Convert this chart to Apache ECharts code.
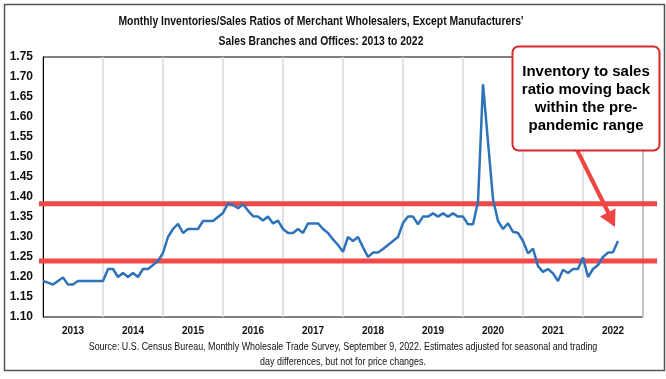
<!DOCTYPE html>
<html>
<head>
<meta charset="utf-8">
<script src="https://cdn.jsdelivr.net/npm/echarts@6/dist/echarts.min.js"></script>
<style>html,body{margin:0;padding:0;background:#fff;}#c{width:666px;height:379px;}</style>
</head>
<body>
<div id="c"></div>
<script>
// Year tick labels (each year = 12 monthly points)
const years = ['2013','2014','2015','2016','2017','2018','2019','2020','2021','2022'];
// Monthly inventories/sales ratio
const ratios2013 = [1.19,1.186,1.181,1.19,1.199,1.181,1.181,1.19,1.19,1.19,1.19,1.19];
const ratios2014 = [1.19,1.22,1.22,1.20,1.21,1.20,1.21,1.20,1.22,1.22,1.23,1.24];
const ratios2015 = [1.26,1.30,1.32,1.333,1.31,1.32,1.32,1.32,1.34,1.34,1.34,1.35];
const ratios2016 = [1.36,1.384,1.38,1.372,1.382,1.366,1.352,1.351,1.341,1.351,1.334,1.341];
const ratios2017 = [1.32,1.31,1.31,1.32,1.31,1.334,1.334,1.334,1.32,1.31,1.294,1.28];
const ratios2018 = [1.263,1.30,1.29,1.30,1.274,1.25,1.261,1.261,1.27,1.28,1.29,1.30];
const ratios2019 = [1.335,1.351,1.351,1.332,1.351,1.351,1.359,1.351,1.359,1.351,1.359,1.351];
const ratios2020 = [1.351,1.332,1.332,1.388,1.682,1.538,1.395,1.34,1.32,1.334,1.313,1.31];
const ratios2021 = [1.29,1.259,1.271,1.227,1.213,1.22,1.209,1.19,1.218,1.21,1.22,1.22];
const ratios2022 = [1.249,1.20,1.22,1.23,1.25,1.261,1.262,1.29];
const ratios = [].concat(ratios2013,ratios2014,ratios2015,ratios2016,ratios2017,
  ratios2018,ratios2019,ratios2020,ratios2021,ratios2022);
// Pre-pandemic range reference levels
const rangeLevels = [1.383, 1.24];
const yTicksMin = 1.10, yTicksMax = 1.75, yTickStep = 0.05;

const FONT = '"Liberation Sans",Arial,sans-serif';
const chart = echarts.init(document.getElementById('c'), null, {renderer:'canvas'});

const seriesData = ratios.map((v,i)=>[i,v]);
const refSeries = rangeLevels.map(l => ({
  type:'line', xAxisIndex:2, yAxisIndex:1, symbol:'none', silent:true, z:2,
  lineStyle:{color:'#f24848', width:5}, data:[[0,l],[1,l]]
}));

function condensedText(txt, cx, cy, size, weight, sx, z){
  return {type:'text', x:cx, y:cy, scaleX:sx, z:z||10, silent:true,
    style:{x:0, y:0, text:txt, textAlign:'center', textVerticalAlign:'middle',
      fontFamily:FONT, fontSize:size, fontWeight:weight, fill:'#111'}};
}

chart.setOption({
  animation:false,
  backgroundColor:'#fff',
  grid:[
    {left:43, right:23, top:57, bottom:62, show:true, borderColor:'#000', borderWidth:1, backgroundColor:'transparent'},
    {left:39, right:9, top:57, bottom:62, show:false}
  ],
  xAxis:[
    {type:'value', gridIndex:0, min:0, max:120, interval:12,
     axisLabel:{show:false}, axisTick:{show:false}, axisLine:{show:false},
     splitLine:{show:true, lineStyle:{color:'#d9d9d9', width:1.5}}},
    {type:'category', gridIndex:0, data:years, boundaryGap:true, position:'bottom',
     axisLine:{show:false}, axisTick:{show:false}, splitLine:{show:false},
     axisLabel:{fontFamily:FONT, fontSize:10, fontWeight:'bold', color:'#111', margin:9}},
    {type:'value', gridIndex:1, min:0, max:1, show:false}
  ],
  yAxis:[
    {type:'value', gridIndex:0, min:yTicksMin, max:yTicksMax, interval:yTickStep,
     axisLine:{show:true, lineStyle:{color:'#000'}}, axisTick:{show:false},
     splitLine:{show:false},
     axisLabel:{fontFamily:FONT, fontSize:12, fontWeight:'bold', color:'#111', margin:10,
       formatter:v=>v.toFixed(2)}},
    {type:'value', gridIndex:1, min:yTicksMin, max:yTicksMax, show:false}
  ],
  series:[
    ...refSeries,
    {type:'line', xAxisIndex:0, yAxisIndex:0, data:seriesData, symbol:'none', z:5,
     lineStyle:{color:'#2e73ba', width:2.5}}
  ],
  graphic:[
    {type:'rect', left:2, top:2, z:-1, silent:true,
     shape:{width:660, height:366}, style:{fill:'none', stroke:'#555', lineWidth:1.5}},
    condensedText("Monthly Inventories/Sales Ratios of Merchant Wholesalers, Except Manufacturers'", 321, 22, 12, 'bold', 0.865),
    condensedText('Sales Branches and Offices: 2013 to 2022', 321, 42, 12, 'bold', 0.865),
    condensedText('Source: U.S. Census Bureau, Monthly Wholesale Trade Survey, September 9, 2022. Estimates adjusted for seasonal and trading', 343, 347, 11, 'normal', 0.81),
    condensedText('day differences, but not for price changes.', 343, 362, 11, 'normal', 0.81),
    {type:'line', z:50, shape:{x1:577, y1:150, x2:608.5, y2:213},
     style:{stroke:'#f04545', lineWidth:4}},
    {type:'polygon', z:50, shape:{points:[[615,227],[600,216.5],[615.5,208.5]]},
     style:{fill:'#f04545'}},
    {type:'rect', z:60, shape:{x:512.5, y:46.5, width:147, height:104, r:6},
     style:{fill:'#fff', stroke:'#d42a2a', lineWidth:2}},
    {type:'text', z:61, x:586, y:63,
     style:{text:'Inventory to sales\nratio moving back\nwithin the pre-\npandemic range',
       fontFamily:FONT, fontSize:15, fontWeight:'bold',
       fill:'#000', textAlign:'center', lineHeight:18}}
  ]
});
</script>
</body>
</html>
